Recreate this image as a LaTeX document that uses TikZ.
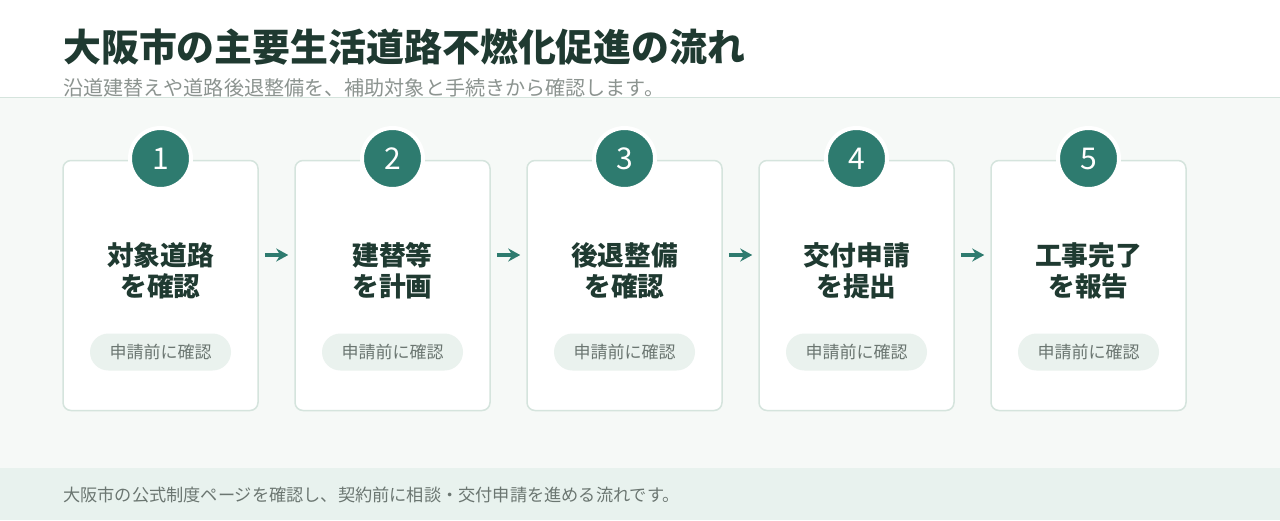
\documentclass[tikz,border=0pt]{standalone}
\usepackage{fontspec}
\setmainfont{Noto Sans CJK JP}
\usetikzlibrary{arrows.meta}
\definecolor{inkgreen}{HTML}{1F3A31}
\definecolor{stepteal}{HTML}{2E7B6F}
\definecolor{bandbg}{HTML}{F6F9F7}
\definecolor{footbg}{HTML}{E8F2EE}
\definecolor{cardline}{HTML}{D5E4DD}
\definecolor{pillbg}{HTML}{EAF2EE}
\definecolor{subgray}{HTML}{8C9490}
\definecolor{notegray}{HTML}{6B7671}
\tikzset{
  card/.style={draw=cardline, line width=1.5pt, fill=white, rounded corners=8pt,
    minimum width=195pt, minimum height=250pt},
  badge/.style={circle, fill=stepteal, draw=white, line width=4pt, minimum size=61pt,
    text=white, font=\fontsize{30}{30}\selectfont},
  steptext/.style={align=center, text=inkgreen, font=\fontsize{26.7}{31}\selectfont\bfseries},
  pill/.style={fill=pillbg, rounded corners=18.5pt, minimum width=141pt, minimum height=37pt,
    text=notegray, font=\fontsize{17}{18}\selectfont},
  flow/.style={->, draw=stepteal, line width=3.8pt, shorten <=6pt, shorten >=6pt}
}
\begin{document}
\begin{tikzpicture}[x=1pt,y=-1pt,>={Stealth[length=12pt,width=13pt]}]
\useasboundingbox (0,0) rectangle (1280,520);
\fill[white] (0,0) rectangle (1280,97);
\fill[bandbg] (0,97) rectangle (1280,468);
\fill[footbg] (0,468) rectangle (1280,520);
\draw[cardline, line width=1pt] (0,97) -- (1280,97);

\node[anchor=west, inner sep=0pt, text=inkgreen, font=\fontsize{37.9}{40}\selectfont\bfseries] (title) at (63,47) {大阪市の主要生活道路不燃化促進の流れ};
\node[anchor=west, inner sep=0pt, text=subgray, font=\fontsize{20.1}{22}\selectfont] (subtitle) at (63,88) {沿道建替えや道路後退整備を、補助対象と手続きから確認します。};

\node[card] (c1) at (160.5,285.5) {};
\node[card] (c2) at (392.5,285.5) {};
\node[card] (c3) at (624.5,285.5) {};
\node[card] (c4) at (856.5,285.5) {};
\node[card] (c5) at (1088.5,285.5) {};

\node[badge] (b1) at (160.5,158.5) {1};
\node[badge] (b2) at (392.5,158.5) {2};
\node[badge] (b3) at (624.5,158.5) {3};
\node[badge] (b4) at (856.5,158.5) {4};
\node[badge] (b5) at (1088.5,158.5) {5};

\node[steptext] (t1) at (160.5,271) {対象道路\\を確認};
\node[steptext] (t2) at (392.5,271) {建替等\\を計画};
\node[steptext] (t3) at (624.5,271) {後退整備\\を確認};
\node[steptext] (t4) at (856.5,271) {交付申請\\を提出};
\node[steptext] (t5) at (1088.5,271) {工事完了\\を報告};

\node[pill] (p1) at (160.5,352) {申請前に確認};
\node[pill] (p2) at (392.5,352) {申請前に確認};
\node[pill] (p3) at (624.5,352) {申請前に確認};
\node[pill] (p4) at (856.5,352) {申請前に確認};
\node[pill] (p5) at (1088.5,352) {申請前に確認};

\draw[flow] ([yshift=30.5pt]c1.east) -- ([yshift=30.5pt]c2.west);
\draw[flow] ([yshift=30.5pt]c2.east) -- ([yshift=30.5pt]c3.west);
\draw[flow] ([yshift=30.5pt]c3.east) -- ([yshift=30.5pt]c4.west);
\draw[flow] ([yshift=30.5pt]c4.east) -- ([yshift=30.5pt]c5.west);

\node[anchor=west, inner sep=0pt, text=notegray, font=\fontsize{17.2}{18}\selectfont] (note) at (63,495) {大阪市の公式制度ページを確認し、契約前に相談・交付申請を進める流れです。};
\end{tikzpicture}
\end{document}
